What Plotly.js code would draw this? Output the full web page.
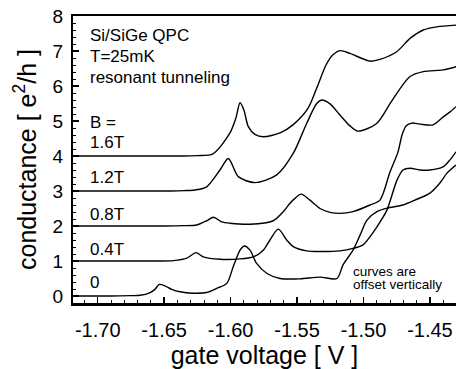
<!DOCTYPE html>
<html>
<head>
<meta charset="utf-8">
<script src="https://cdn.plot.ly/plotly-3.0.1.min.js"></script>
<style>
  html, body { margin: 0; padding: 0; background: #fff; }
  #chart { width: 456px; height: 369px; }
</style>
</head>
<body>
<div id="chart"></div>
<script>
// gate voltage [V] and conductance [e^2/h] (curves offset vertically by 1 per field step)
const fieldLabels = ['0', '0.4T', '0.8T', '1.2T', '1.6T'];

const V_B0 = [-1.7186, -1.69, -1.675, -1.668, -1.661, -1.657, -1.6537, -1.6494, -1.6443, -1.6381, -1.6281, -1.618, -1.6105, -1.6029, -1.598, -1.5929, -1.5897, -1.5854, -1.5804, -1.5729, -1.5628, -1.5478, -1.5327, -1.520, -1.5154, -1.5079, -1.5026, -1.4974, -1.4899, -1.4823, -1.4703, -1.4613, -1.450, -1.4425, -1.4372, -1.4304];
const G_B0 = [0.0, 0.0, 0.01, 0.02, 0.09, 0.19, 0.33, 0.29, 0.19, 0.12, 0.08, 0.10, 0.22, 0.36, 0.84, 1.31, 1.43, 1.31, 0.93, 0.65, 0.50, 0.49, 0.54, 0.50, 0.89, 1.31, 1.74, 2.17, 2.41, 2.51, 2.60, 2.74, 2.94, 3.23, 3.51, 3.74];

const V_B04 = [-1.7186, -1.68, -1.655, -1.6431, -1.633, -1.626, -1.6206, -1.608, -1.5929, -1.5829, -1.5754, -1.5704, -1.5641, -1.5578, -1.5528, -1.5428, -1.5327, -1.5177, -1.5079, -1.5004, -1.4914, -1.4876, -1.4823, -1.4748, -1.4703, -1.465, -1.4575, -1.450, -1.4402, -1.4349, -1.4304];
const G_B04 = [1.0, 1.0, 1.0, 1.01, 1.08, 1.24, 1.12, 1.05, 1.06, 1.12, 1.31, 1.60, 1.91, 1.60, 1.41, 1.29, 1.27, 1.29, 1.36, 1.46, 1.89, 2.11, 2.46, 3.31, 3.60, 3.65, 3.60, 3.60, 3.69, 3.89, 4.12];

const V_B08 = [-1.7186, -1.68, -1.65, -1.6356, -1.6255, -1.618, -1.613, -1.6067, -1.6005, -1.5854, -1.5679, -1.5604, -1.5553, -1.5516, -1.547, -1.5403, -1.5327, -1.5252, -1.5177, -1.5079, -1.4951, -1.4876, -1.4801, -1.4741, -1.471, -1.468, -1.4635, -1.4575, -1.4477, -1.4402, -1.4349, -1.4304];
const G_B08 = [2.0, 2.0, 2.0, 2.01, 2.03, 2.15, 2.25, 2.12, 2.08, 2.05, 2.15, 2.41, 2.65, 2.79, 2.91, 2.74, 2.50, 2.39, 2.36, 2.41, 2.60, 2.74, 3.54, 4.11, 4.60, 4.86, 4.94, 4.91, 4.89, 5.11, 5.26, 5.41];

const V_B12 = [-1.7186, -1.68, -1.645, -1.635, -1.6268, -1.618, -1.608, -1.6017, -1.5942, -1.5817, -1.5653, -1.5528, -1.5428, -1.5352, -1.5315, -1.5252, -1.5177, -1.5102, -1.5042, -1.4901, -1.4788, -1.465, -1.455, -1.440, -1.4304];
const G_B12 = [3.0, 3.0, 3.0, 3.01, 3.03, 3.12, 3.60, 3.93, 3.41, 3.24, 3.46, 4.08, 4.93, 5.50, 5.60, 5.49, 5.17, 4.86, 4.71, 4.93, 5.57, 6.27, 6.41, 6.46, 6.55];

const V_B16 = [-1.7186, -1.68, -1.64, -1.625, -1.6133, -1.6005, -1.596, -1.5929, -1.5899, -1.5867, -1.5817, -1.5754, -1.5628, -1.5531, -1.5418, -1.5352, -1.5282, -1.523, -1.5177, -1.5102, -1.4951, -1.4876, -1.475, -1.465, -1.455, -1.4449, -1.4304];
const G_B16 = [4.0, 4.0, 4.0, 4.01, 4.06, 4.66, 5.09, 5.52, 5.30, 4.84, 4.62, 4.55, 4.66, 4.89, 5.36, 5.94, 6.60, 6.89, 7.01, 6.93, 6.71, 6.76, 6.98, 7.36, 7.60, 7.69, 7.74];

const xTickVals = [-1.70, -1.65, -1.60, -1.55, -1.50, -1.45];
const xTickText = ['-1.70', '-1.65', '-1.60', '-1.55', '-1.50', '-1.45'];
const yTickVals = [0, 1, 2, 3, 4, 5, 6, 7, 8];

const FONT = 'Liberation Sans, Arial, Helvetica, sans-serif';
const curves = [[V_B0, G_B0], [V_B04, G_B04], [V_B08, G_B08], [V_B12, G_B12], [V_B16, G_B16]];
const traces = curves.map((c, i) => ({
  x: c[0], y: c[1], type: 'scatter', mode: 'lines', name: fieldLabels[i],
  line: { color: '#000', width: 1.4, shape: 'spline', smoothing: 0.8 },
  hoverinfo: 'skip'
}));

// label y positions (curve baseline + small gap)
const labelY = [0.40, 1.343, 2.343, 3.40, 4.40];
const annotations = fieldLabels.map((t, i) => ({
  text: t, x: -1.7076, y: labelY[i], xref: 'x', yref: 'y',
  xanchor: 'left', yanchor: 'middle', showarrow: false,
  font: { family: FONT, size: 17, color: '#000' }
}));
const notes = [
  ['Si/SiGe QPC', 7.43, 17], ['T=25mK', 6.83, 17], ['resonant tunneling', 6.257, 17], ['B =', 4.971, 17]
];
notes.forEach(n => annotations.push({
  text: n[0], x: -1.7076, y: n[1], xref: 'x', yref: 'y', xanchor: 'left', yanchor: 'middle',
  showarrow: false, font: { family: FONT, size: n[2], color: '#000' }
}));
annotations.push({ text: 'curves are', x: -1.5087, y: 0.70, xref: 'x', yref: 'y', xanchor: 'left', yanchor: 'middle', showarrow: false, borderpad: 0, font: { family: FONT, size: 13.5, color: '#000' } });
annotations.push({ text: 'offset vertically', x: -1.5087, y: 0.33, xref: 'x', yref: 'y', xanchor: 'left', yanchor: 'middle', showarrow: false, borderpad: 0, font: { family: FONT, size: 13.5, color: '#000' } });

const layout = {
  width: 456, height: 369,
  margin: { l: 73, r: 0, t: 16, b: 66, pad: 0 },
  paper_bgcolor: '#fff', plot_bgcolor: '#fff',
  showlegend: false,
  font: { family: FONT, color: '#000' },
  xaxis: {
    range: [-1.7186, -1.4304], tickmode: 'array', tickvals: xTickVals, ticktext: xTickText,
    ticks: 'inside', ticklen: 6, tickwidth: 1.5, tickcolor: '#000',
    minor: { tick0: -1.70, dtick: 0.01, ticks: 'inside', ticklen: 3, tickwidth: 1, tickcolor: '#000', showgrid: false },
    showline: true, linecolor: '#000', linewidth: 2.5, mirror: true,
    showgrid: false, zeroline: false,
    tickfont: { family: FONT, size: 20, color: '#000' }, ticklabelstandoff: 7,
    title: { text: 'gate voltage [ V ]', font: { family: FONT, size: 25, color: '#000' }, standoff: 12 },
    automargin: false
  },
  yaxis: {
    range: [-0.2, 8], tickmode: 'array', tickvals: yTickVals,
    ticks: 'inside', ticklen: 6, tickwidth: 1.5, tickcolor: '#000',
    minor: { tick0: 0, dtick: 0.2, ticks: 'inside', ticklen: 3, tickwidth: 1, tickcolor: '#000', showgrid: false },
    showline: true, linecolor: '#000', linewidth: 2, mirror: false,
    showgrid: false, zeroline: false,
    tickfont: { family: FONT, size: 19, color: '#000' }, ticklabelstandoff: 4,
    title: { text: 'conductance [ e<sup>2</sup>/h ]', font: { family: FONT, size: 25, color: '#000' }, standoff: 9 },
    automargin: false
  },
  annotations: annotations
};

Plotly.newPlot('chart', traces, layout, { staticPlot: true, displayModeBar: false });
</script>
</body>
</html>
